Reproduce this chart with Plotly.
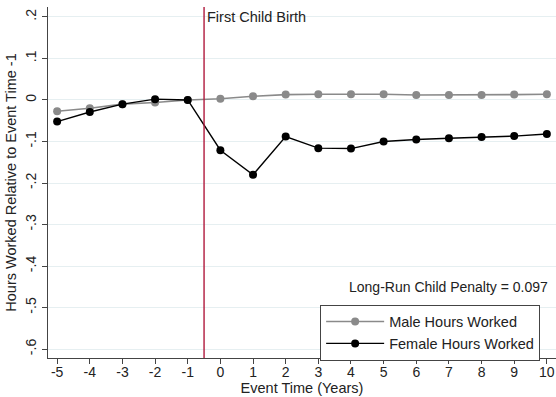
import plotly.graph_objects as go

event_time = [-5, -4, -3, -2, -1, 0, 1, 2, 3, 4, 5, 6, 7, 8, 9, 10]
male_hours = [-0.027, -0.020, -0.010, -0.006, 0.0, 0.003, 0.009, 0.013, 0.014, 0.014, 0.014, 0.012, 0.012, 0.012, 0.013, 0.014]
female_hours = [-0.052, -0.029, -0.010, 0.002, 0.0, -0.121, -0.180, -0.088, -0.116, -0.117, -0.100, -0.095, -0.092, -0.089, -0.087, -0.082]
y_ticks = [0.2, 0.1, 0, -0.1, -0.2, -0.3, -0.4, -0.5, -0.6]
y_tick_labels = [".2", ".1", "0", "-.1", "-.2", "-.3", "-.4", "-.5", "-.6"]
x_ticks = list(range(-5, 11))
x_tick_labels = ["-5", "-4", "-3", "-2", "-1", "0", "1", "2", "3", "4", "5", "6", "7", "8", "9", "10"]
event_line = -0.5
penalty_text = "Long-Run Child Penalty = 0.097"

FONT = "Liberation Sans, Arial, sans-serif"

fig = go.Figure()
fig.add_trace(go.Scatter(
    x=event_time, y=male_hours, mode="lines+markers", name="Male Hours Worked",
    line=dict(color="#8a8a8a", width=1.6), marker=dict(color="#8a8a8a", size=8)))
fig.add_trace(go.Scatter(
    x=event_time, y=female_hours, mode="lines+markers", name="Female Hours Worked",
    line=dict(color="#000000", width=1.4), marker=dict(color="#000000", size=8)))

fig.add_shape(type="line", xref="x", yref="paper", x0=event_line, x1=event_line,
              y0=0, y1=1, line=dict(color="#b0183c", width=1.4))
fig.add_annotation(x=event_line, y=1, xref="x", yref="paper", text="First Child Birth",
                   showarrow=False, xanchor="left", yanchor="top", xshift=1, yshift=0,
                   font=dict(family=FONT, size=14.5, color="#222"))
fig.add_annotation(x=1, y=-0.45, xref="paper", yref="y", text=penalty_text,
                   showarrow=False, xanchor="right", yanchor="middle", xshift=-6,
                   font=dict(family=FONT, size=14, color="#222"))

fig.update_layout(
    width=556, height=397,
    margin=dict(l=48, r=0, t=7, b=39, autoexpand=False),
    paper_bgcolor="white", plot_bgcolor="white",
    font=dict(family=FONT, size=13, color="#222"),
    showlegend=True,
    legend=dict(x=0.5357, y=0.152, xanchor="left", yanchor="top",
                bordercolor="#444", borderwidth=1, bgcolor="white",
                font=dict(family=FONT, size=14.5, color="#222"),
                itemwidth=58, tracegroupgap=0),
    xaxis=dict(range=[-5.28, 10.28], tickmode="array", tickvals=x_ticks, ticktext=x_tick_labels,
               showgrid=False, zeroline=False, showline=True, linecolor="#444", linewidth=1,
               ticks="outside", ticklen=5, tickcolor="#444", automargin=False,
               tickfont=dict(size=14), ticklabelstandoff=-4,
               title=dict(text="Event Time (Years)", standoff=0, font=dict(size=14.5))),
    yaxis=dict(range=[-0.6215, 0.224], tickmode="array", tickvals=y_ticks, ticktext=y_tick_labels,
               tickangle=-90, showgrid=True, gridcolor="#e6eff1", gridwidth=1,
               zeroline=False, showline=True, linecolor="#444", linewidth=1,
               ticks="outside", ticklen=5, tickcolor="#444", automargin=False,
               tickfont=dict(size=14),
               title=dict(text="Hours Worked Relative to Event Time -1", standoff=3, font=dict(size=14.5))),
)

fig.write_html("out.html", config={"displayModeBar": False},
               post_script="document.body.style.margin='0';document.body.style.overflow='hidden';")
